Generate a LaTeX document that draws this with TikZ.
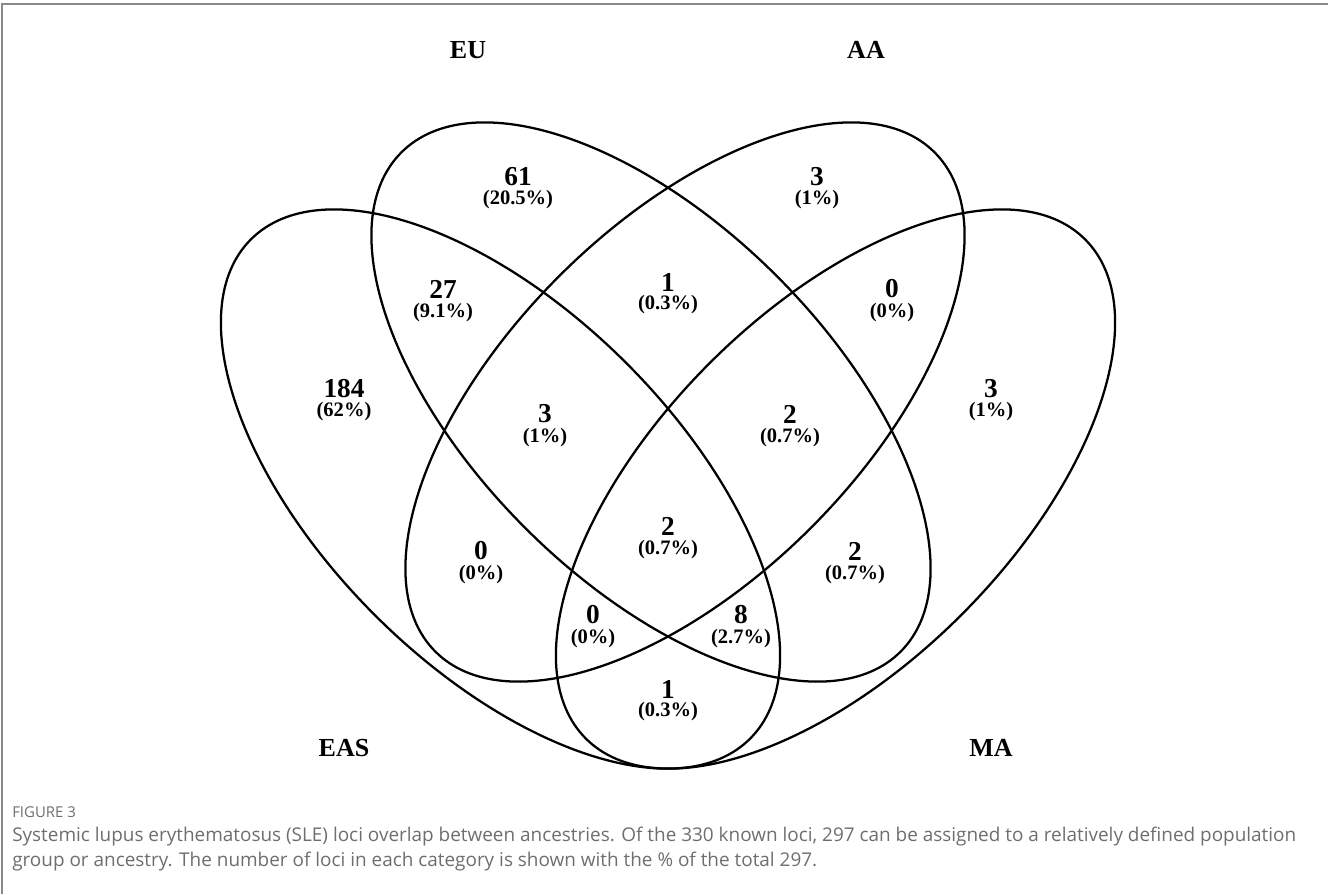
\documentclass[tikz,border=0pt]{standalone}
\usepackage{fontspec}
\setmainfont{Liberation Serif}
\newfontfamily\capfont{Open Sans}
\definecolor{framegray}{HTML}{8A8A8A}
\definecolor{capgray}{HTML}{6E6E6E}
\tikzset{
  venn/.style={draw=black, line width=1.7pt},
  setlab/.style={font=\fontsize{19.5}{22}\selectfont\bfseries, inner sep=0pt},
  cnt/.style={font=\fontsize{20.5}{22}\selectfont\bfseries, inner sep=0pt},
  pct/.style={font=\fontsize{15.4}{17}\selectfont\bfseries, inner sep=0pt},
  captext/.style={font=\capfont\fontsize{14.2}{16}\selectfont, text=capgray, anchor=base west, inner sep=0pt},
}
\begin{document}
\begin{tikzpicture}[x=0.75pt,y=-0.75pt]
\useasboundingbox (0,0) rectangle (1328,894);
% frame
\coordinate (f1) at (2,894);
\coordinate (f2) at (2,4);
\coordinate (f3) at (1328,4);
\draw[framegray, line width=0.9pt] (f1) -- (f2) -- (f3);
% ellipses
\draw[venn, rotate around={-45:(500.5,489)}] (500.5,489) ellipse (353 and 178);
\draw[venn, rotate around={-45:(651,402)}] (651,402) ellipse (353 and 178);
\draw[venn, rotate around={45:(685,402)}] (685,402) ellipse (353 and 178);
\draw[venn, rotate around={45:(835.5,489)}] (835.5,489) ellipse (353 and 178);
% set labels
\node[setlab] (eu) at (468,50) {EU};
\node[setlab] (aa) at (866,50) {AA};
\node[setlab] (eas) at (344,748) {EAS};
\node[setlab] (ma) at (991,748) {MA};
% counts
\node[cnt] (n1) at (518,177) {61};   \node[pct] (p1) at (518,200) {(20.5\%)};
\node[cnt] (n2) at (817,177) {3};    \node[pct] (p2) at (817,200) {(1\%)};
\node[cnt] (n3) at (443,289) {27};   \node[pct] (p3) at (443,313) {(9.1\%)};
\node[cnt] (n4) at (668,282) {1};    \node[pct] (p4) at (668,305) {(0.3\%)};
\node[cnt] (n5) at (892,289) {0};    \node[pct] (p5) at (892,313) {(0\%)};
\node[cnt] (n6) at (344,389) {184};  \node[pct] (p6) at (344,412) {(62\%)};
\node[cnt] (n7) at (545,414) {3};    \node[pct] (p7) at (545,438) {(1\%)};
\node[cnt] (n8) at (790,414) {2};    \node[pct] (p8) at (790,438) {(0.7\%)};
\node[cnt] (n9) at (991,389) {3};    \node[pct] (p9) at (991,412) {(1\%)};
\node[cnt] (n10) at (481,551) {0};   \node[pct] (p10) at (481,575) {(0\%)};
\node[cnt] (n11) at (668,526) {2};   \node[pct] (p11) at (668,550) {(0.7\%)};
\node[cnt] (n12) at (855,551) {2};   \node[pct] (p12) at (855,575) {(0.7\%)};
\node[cnt] (n13) at (593,615) {0};   \node[pct] (p13) at (593,639) {(0\%)};
\node[cnt] (n14) at (741,615) {8};   \node[pct] (p14) at (741,639) {(2.7\%)};
\node[cnt] (n15) at (668,689) {1};   \node[pct] (p15) at (668,712) {(0.3\%)};
% caption
\node[captext, font=\capfont\fontsize{11.2}{13}\selectfont] (fig) at (12,817) {FIGURE 3};
\node[captext] (cap1) at (12,841) {Systemic lupus erythematosus (SLE) loci overlap between ancestries. Of the 330 known loci, 297 can be assigned to a relatively defined population};
\node[captext] (cap2) at (12,866) {group or ancestry. The number of loci in each category is shown with the \% of the total 297.};
\end{tikzpicture}
\end{document}
